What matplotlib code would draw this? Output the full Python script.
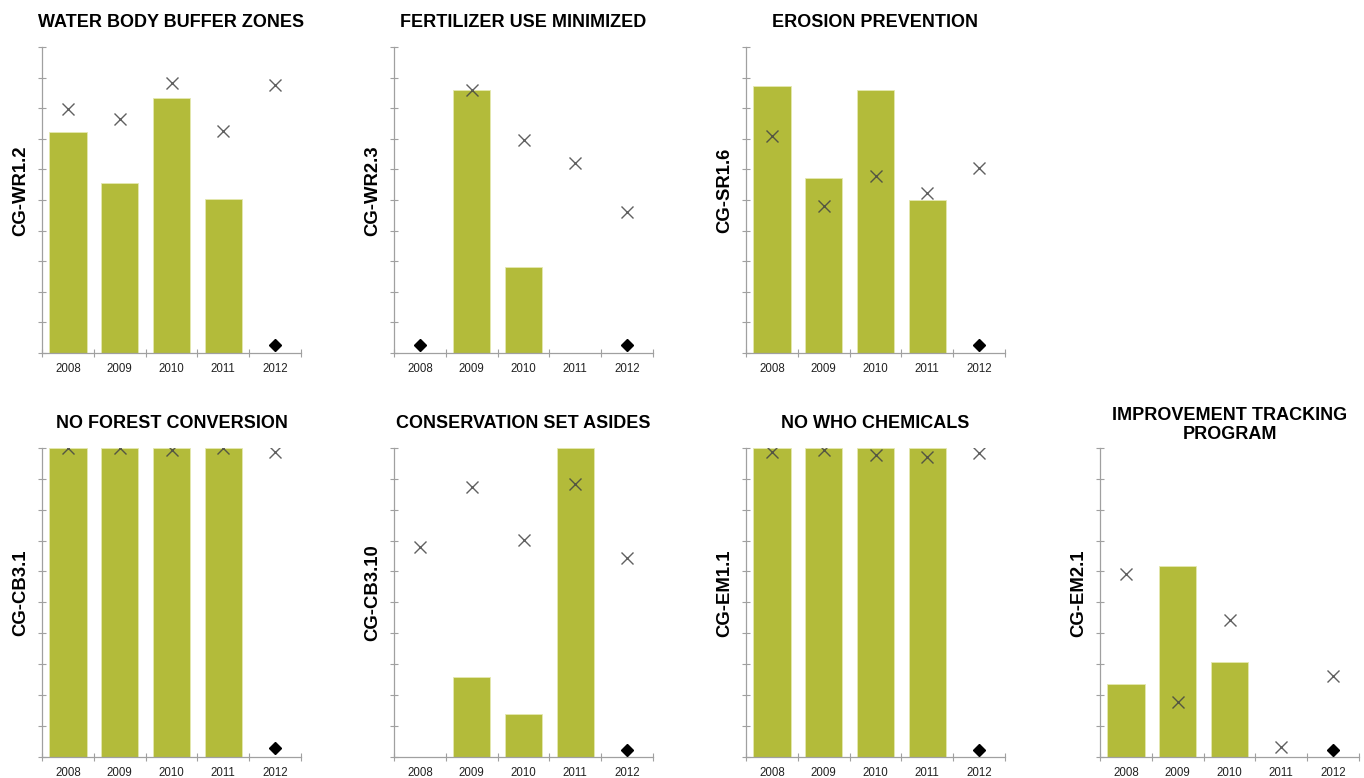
import numpy as np
import matplotlib
matplotlib.use("Agg")
import matplotlib.pyplot as plt

plt.rcParams['font.family'] = ['Liberation Sans', 'DejaVu Sans']

years = ['2008', '2009', '2010', '2011', '2012']
nan = np.nan

titles = ['WATER BODY BUFFER ZONES', 'FERTILIZER USE MINIMIZED', 'EROSION PREVENTION',
          'NO FOREST CONVERSION', 'CONSERVATION SET ASIDES', 'NO WHO CHEMICALS',
          'IMPROVEMENT TRACKING\nPROGRAM']
codes = ['CG-WR1.2', 'CG-WR2.3', 'CG-SR1.6', 'CG-CB3.1', 'CG-CB3.10', 'CG-EM1.1', 'CG-EM2.1']

bars_wr12 = [72.2, 55.6, 83.2, 50.2, nan]
cross_wr12 = [79.8, 76.4, 88.3, 72.5, 87.6]
diam_wr12 = [nan, nan, nan, nan, 2.6]

bars_wr23 = [nan, 85.9, 28.1, nan, nan]
cross_wr23 = [nan, 85.9, 69.6, 62.0, 46.2]
diam_wr23 = [2.6, nan, nan, nan, 2.6]

bars_sr16 = [87.4, 57.3, 85.9, 49.9, nan]
cross_sr16 = [70.8, 47.9, 57.7, 52.3, 60.3]
diam_sr16 = [nan, nan, nan, nan, 2.6]

bars_cb31 = [100, 100, 100, 100, nan]
cross_cb31 = [100, 100, 99.3, 100, 98.6]
diam_cb31 = [nan, nan, nan, nan, 2.6]

bars_cb310 = [nan, 25.7, 13.8, 100, nan]
cross_cb310 = [68.0, 87.2, 70.1, 88.3, 64.5]
diam_cb310 = [nan, nan, nan, nan, 2.0]

bars_em11 = [100, 100, 100, 100, nan]
cross_em11 = [98.7, 99.3, 97.6, 97.1, 98.5]
diam_em11 = [nan, nan, nan, nan, 2.0]

bars_em21 = [23.6, 61.6, 30.6, nan, nan]
cross_em21 = [59.3, 17.8, 44.1, 3.0, 26.2]
diam_em21 = [nan, nan, nan, nan, 2.0]

bars = [bars_wr12, bars_wr23, bars_sr16, bars_cb31, bars_cb310, bars_em11, bars_em21]
crosses = [cross_wr12, cross_wr23, cross_sr16, cross_cb31, cross_cb310, cross_em11, cross_em21]
diams = [diam_wr12, diam_wr23, diam_sr16, diam_cb31, diam_cb310, diam_em11, diam_em21]

W, H = 1364, 778
fig = plt.figure(figsize=(W / 100, H / 100), dpi=100)

col_left = [42, 394, 746, 1100]
panel_w = 259
rows = [(47, 353), (448, 756.5)]
slots = [(0, 0), (0, 1), (0, 2), (1, 0), (1, 1), (1, 2), (1, 3)]

bar_color = '#b3bb3a'
axis_color = '#a0a0a0'

for i, (r, c) in enumerate(slots):
    top, bot = rows[r]
    ax = fig.add_axes([col_left[c] / W, (H - bot) / H, panel_w / W, (bot - top) / H])
    x = np.arange(len(years))
    b = np.array(bars[i], dtype=float)
    ax.bar(x, np.nan_to_num(b), width=0.72, color=bar_color, edgecolor='#e4e8b0',
           linewidth=0.6, zorder=2)
    ax.plot(x, crosses[i], linestyle='none', marker='x', markersize=9,
            markeredgewidth=1.0, color='#444444', alpha=0.85, zorder=3)
    ax.plot(x, diams[i], linestyle='none', marker='D', markersize=6.5,
            color='black', zorder=3)
    ax.set_xlim(-0.5, 4.5)
    ax.set_ylim(0, 100)
    ax.set_yticks(np.arange(0, 101, 10))
    ax.set_yticklabels([])
    ax.set_xticks(np.arange(-0.5, 4.6, 1.0))
    ax.set_xticklabels([])
    ax.set_xticks(x, minor=True)
    ax.set_xticklabels(years, minor=True, fontsize=8.3, color='#222222')
    ax.tick_params(axis='x', which='minor', length=0, pad=7.5)
    ax.tick_params(axis='both', which='major', direction='inout', length=6,
                   width=0.8, color=axis_color)
    for s in ['top', 'right']:
        ax.spines[s].set_visible(False)
    for s in ['left', 'bottom']:
        ax.spines[s].set_color(axis_color)
        ax.spines[s].set_linewidth(0.9)
    pad = 6.3 if '\n' in titles[i] else 14.4
    ax.set_title(titles[i], fontsize=13, fontweight='bold', pad=pad, linespacing=1.15)
    ax.set_ylabel(codes[i], fontsize=13.3, fontweight='bold')
    ax.yaxis.set_label_coords(-0.048, 0.53)

fig.savefig('out.png', dpi=100)
